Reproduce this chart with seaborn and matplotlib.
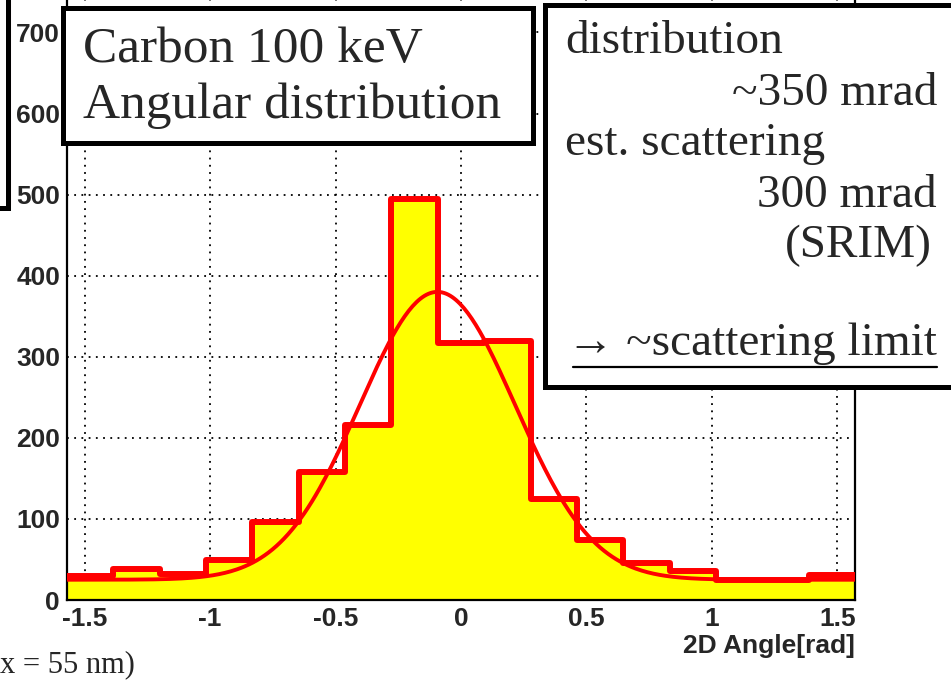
import numpy as np
import pandas as pd
import matplotlib
matplotlib.use("Agg")
import matplotlib.pyplot as plt
import seaborn as sns
from matplotlib.patches import Rectangle
from matplotlib.lines import Line2D
from matplotlib.ticker import MultipleLocator

# ---------------- data ----------------
x_min = -1.5708
x_max = 1.5708
n_bins = 17
counts = [30, 38, 32, 49, 96, 158, 216, 494, 317, 319, 125, 74, 46, 36, 25, 25, 31]

# Gaussian + constant fit drawn over the histogram (parameters)
fit_const = 25.0
fit_amp = 355.0
fit_mean = -0.094
fit_sigma = 0.31

x_ticks = [-1.5, -1.0, -0.5, 0.0, 0.5, 1.0, 1.5]
x_tick_labels = ["-1.5", "-1", "-0.5", "0", "0.5", "1", "1.5"]
y_ticks = [0, 100, 200, 300, 400, 500, 600, 700]
y_tick_labels = ["0", "100", "200", "300", "400", "500", "600", "700"]
x_label = "2D Angle[rad]"

box1_lines = ["Carbon 100 keV", "Angular distribution"]
box2_left = ["distribution", "est. scattering"]
box2_right = ["~350 mrad", "300 mrad", "(SRIM)"]
box2_bottom = "\u2192 ~scattering limit"
bottom_note = "x = 55 nm)"

# ---------------- figure ----------------
W, H = 951, 684
sns.set_style("white")
plt.rcParams["font.family"] = ["Liberation Sans", "DejaVu Sans"]

fig = plt.figure(figsize=(W / 100, H / 100), dpi=100)


def fx(px):
    return px / W


def fy(py):
    return 1 - py / H


ax = fig.add_axes([fx(67), fy(600), (855 - 67) / W, 600 / H])

bin_w = (x_max - x_min) / n_bins
centers = [x_min + (i + 0.5) * bin_w for i in range(n_bins)]
df = pd.DataFrame({"angle": centers, "count": counts})

sns.histplot(data=df, x="angle", weights="count", bins=n_bins, binrange=(x_min, x_max),
             element="step", fill=True, color="#ffff00", alpha=1.0, linewidth=0, ax=ax, zorder=2)
sns.histplot(data=df, x="angle", weights="count", bins=n_bins, binrange=(x_min, x_max),
             element="step", fill=False, color="#ff0000", linewidth=4.3, ax=ax, zorder=3)

xs = np.linspace(x_min, x_max, 400)
fit_df = pd.DataFrame({"angle": xs,
                       "fit": fit_const + fit_amp * np.exp(-0.5 * ((xs - fit_mean) / fit_sigma) ** 2)})
sns.lineplot(data=fit_df, x="angle", y="fit", color="#ff0000", linewidth=2.8, ax=ax, zorder=4)

ax.set_xlim(x_min, x_max)
ax.set_ylim(0, 740)
ax.set_axisbelow(True)
ax.grid(True, which="major", color="black", linestyle=(0, (1, 3)), linewidth=1.3)

ax.set_xticks(x_ticks)
ax.set_xticklabels(x_tick_labels)
ax.set_yticks(y_ticks)
ax.set_yticklabels(y_tick_labels)
ax.xaxis.set_minor_locator(MultipleLocator(0.1))
ax.yaxis.set_minor_locator(MultipleLocator(20))
ax.tick_params(axis="both", which="major", direction="in", length=11, width=1.5,
               labelsize=19, pad=5, color="black")
ax.tick_params(axis="both", which="minor", direction="in", length=6, width=1.3, color="black")
ax.tick_params(top=False, right=False, which="both")
for lab in ax.get_xticklabels() + ax.get_yticklabels():
    lab.set_fontweight("bold")
ax.set_xlabel("")
ax.set_ylabel("")
for s in ax.spines.values():
    s.set_color("black")
    s.set_linewidth(1.6)
ax.spines["top"].set_visible(False)

fig.text(fx(855), fy(646), x_label, ha="right", va="center", fontsize=19, fontweight="bold")

serif = ["Liberation Serif", "DejaVu Serif"]

# partial box at far left
fig.patches.append(Rectangle((fx(-20), fy(208)), (28) / W, 240 / H, transform=fig.transFigure,
                             fill=False, edgecolor="black", linewidth=3.6, zorder=10))
fig.lines.append(Line2D([fx(10), fx(10)], [fy(0), fy(205)], transform=fig.transFigure,
                        color="#f4a6c8", linewidth=0.8, zorder=10))

# box 1
fig.patches.append(Rectangle((fx(63), fy(143)), (533 - 63) / W, (143 - 8) / H, transform=fig.transFigure,
                             facecolor="white", edgecolor="black", linewidth=3.6, zorder=10))
fig.text(fx(83), fy(62), box1_lines[0], ha="left", va="baseline", fontsize=37, family=serif, zorder=11)
fig.text(fx(83), fy(118), box1_lines[1], ha="left", va="baseline", fontsize=37, family=serif, zorder=11)

# box 2
fig.patches.append(Rectangle((fx(545), fy(387)), (980 - 545) / W, (387 - 5) / H, transform=fig.transFigure,
                             facecolor="white", edgecolor="black", linewidth=3.6, zorder=10))
fig.text(fx(565), fy(53), box2_left[0], ha="left", va="baseline", fontsize=34, family=serif, zorder=11)
fig.text(fx(937), fy(105), box2_right[0], ha="right", va="baseline", fontsize=34, family=serif, zorder=11)
fig.text(fx(565), fy(155), box2_left[1], ha="left", va="baseline", fontsize=34, family=serif, zorder=11)
fig.text(fx(937), fy(207), box2_right[1], ha="right", va="baseline", fontsize=34, family=serif, zorder=11)
fig.text(fx(932), fy(257), box2_right[2], ha="right", va="baseline", fontsize=34, family=serif, zorder=11)
fig.text(fx(937), fy(355), box2_bottom, ha="right", va="baseline", fontsize=34, family=serif, zorder=11)
fig.lines.append(Line2D([fx(573), fx(937)], [fy(367), fy(367)], transform=fig.transFigure,
                        color="black", linewidth=1.6, zorder=11))

# cut-off note at the bottom left
fig.text(fx(135), fy(672), bottom_note, ha="right", va="baseline", fontsize=22, family=serif)

fig.savefig("out.png", dpi=100)
